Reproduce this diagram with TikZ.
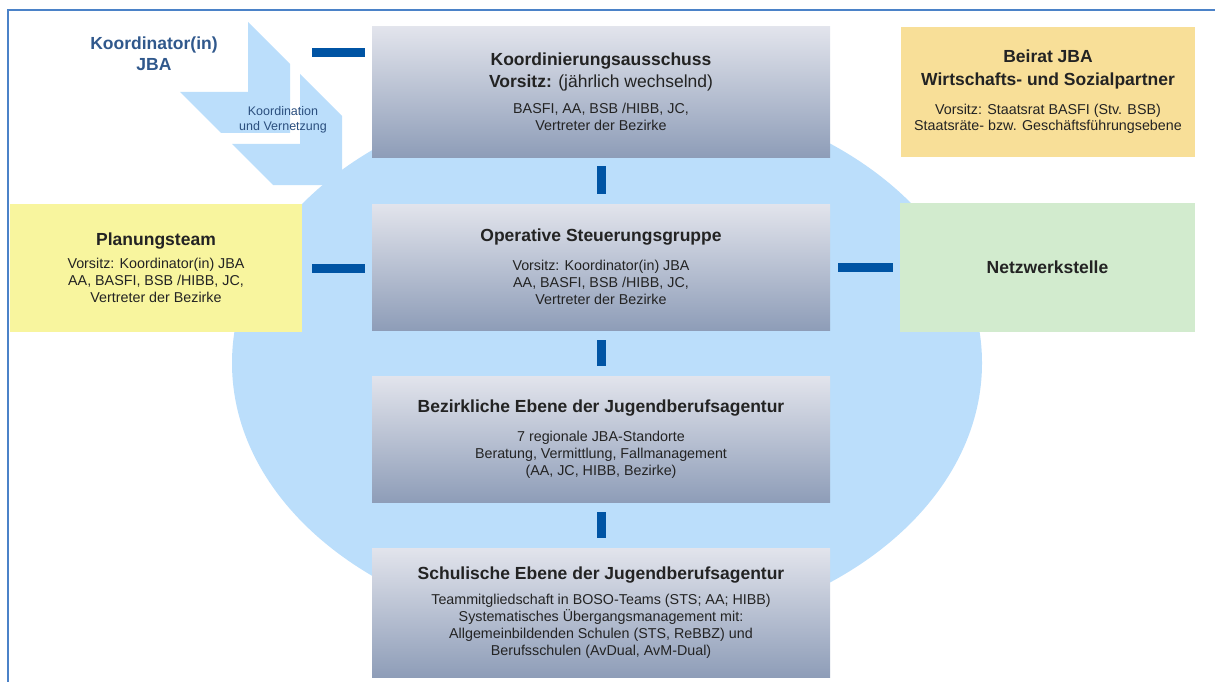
\documentclass[tikz,border=0pt]{standalone}
\usepackage{fontspec}
\setmainfont{Liberation Sans}
\usepackage{tikz}
\usetikzlibrary{positioning,calc}
\definecolor{jbablau}{RGB}{0,84,164}
\definecolor{hellblau}{RGB}{187,222,251}
\definecolor{rahmenblau}{RGB}{75,130,200}
\definecolor{ebenetop}{RGB}{226,228,236}
\definecolor{ebenebot}{RGB}{142,157,184}
\definecolor{planungsgelb}{RGB}{248,245,158}
\definecolor{beiratgelb}{RGB}{248,223,152}
\definecolor{netzgruen}{RGB}{210,235,206}
\definecolor{schrift}{RGB}{35,35,35}
\definecolor{koordblau}{RGB}{48,88,140}

\newcommand{\titelschrift}{\fontsize{17.5}{21}\selectfont\bfseries}
\newcommand{\textschrift}{\fontsize{14.3}{17}\selectfont\mdseries}
\newcommand{\kleinschrift}{\fontsize{12.5}{15}\selectfont}

\begin{document}
\begin{tikzpicture}[x=1pt, y=-1pt,
  ebene/.style={rectangle, inner sep=0pt, minimum width=458pt, minimum height=127pt, top color=ebenetop, bottom color=ebenebot, align=center, text=schrift, font=\textschrift},
  seitenbox/.style={rectangle, inner sep=0pt, minimum width=294pt, minimum height=129pt, align=center, text=schrift, font=\textschrift},
  balken/.style={draw=jbablau, line width=9pt}
]
\useasboundingbox (0,0) rectangle (1215,682);

% Frame
\draw[rahmenblau, line width=2pt] (8,682) -- (8,10) -- (1215,10);

% Background ellipse and chevrons
\fill[hellblau] (607,363) ellipse [x radius=375pt, y radius=273pt];
\fill[hellblau] (248,22) -- (290,64) -- (290,133) -- (221,133) -- (180,92) -- (248,92) -- cycle;
\fill[hellblau, shift={(52,52)}] (248,22) -- (290,64) -- (290,133) -- (221,133) -- (180,92) -- (248,92) -- cycle;

% Levels
\node[ebene, minimum height=130pt] (ausschuss) at (601,92) {{\titelschrift Koordinierungsausschuss}\\[5pt]
  {\titelschrift Vorsitz: {\mdseries (jährlich wechselnd)}}\\[9pt]
  BASFI, AA, BSB /HIBB, JC,\\
  Vertreter der Bezirke};
\node[ebene, minimum height=126pt] (operativ) at (601,267) {{\titelschrift Operative Steuerungsgruppe}\\[12pt]
  Vorsitz: Koordinator(in) JBA\\
  AA, BASFI, BSB /HIBB, JC,\\
  Vertreter der Bezirke};
\node[ebene, minimum height=126pt] (bezirk) at (601,439) {{\titelschrift Bezirkliche Ebene der Jugendberufsagentur}\\[12pt]
  7 regionale JBA-Standorte\\
  Beratung, Vermittlung, Fallmanagement\\
  (AA, JC, HIBB, Bezirke)};
\node[ebene, minimum height=129pt] (schule) at (601,612.5) {{\titelschrift Schulische Ebene der Jugendberufsagentur}\\[8pt]
  Teammitgliedschaft in BOSO-Teams (STS; AA; HIBB)\\
  Systematisches Übergangsmanagement mit:\\
  Allgemeinbildenden Schulen (STS, ReBBZ) und\\
  Berufsschulen (AvDual, AvM-Dual)};

% Side boxes
\node[seitenbox, fill=planungsgelb, minimum width=292pt, minimum height=128pt] (planung) at (156,268) {{\titelschrift Planungsteam}\\[6pt]
  Vorsitz: Koordinator(in) JBA\\
  AA, BASFI, BSB /HIBB, JC,\\
  Vertreter der Bezirke};
\node[seitenbox, fill=beiratgelb, minimum height=130pt] (beirat) at (1048,92) {{\titelschrift Beirat JBA}\\[6pt]
  {\titelschrift Wirtschafts- und Sozialpartner}\\[12pt]
  Vorsitz: Staatsrat BASFI (Stv. BSB)\\[-1pt]
  Staatsräte- bzw. Geschäftsführungsebene};
\node[seitenbox, fill=netzgruen, minimum width=295pt] (netz) at (1047.5,267.5) {\titelschrift Netzwerkstelle};

% Coordinator
\node[align=center, text=koordblau, font=\titelschrift] (koordinator) at (154,54) {Koordinator(in)\\ JBA};
\node[align=center, text=koordblau!90!black, font=\kleinschrift] (vernetzung) at (283,120) {Koordination\\ und Vernetzung};
\coordinate (kjba) at (312,53);

% Connectors
\draw[balken, shorten >=7pt] (kjba) -- (kjba -| ausschuss.west);
\draw[balken, shorten <=10pt, shorten >=7pt] (planung.east) -- (planung.east -| operativ.west);
\draw[balken, shorten <=8pt, shorten >=7pt] (operativ.east) -- (operativ.east -| netz.west);
\draw[balken, shorten <=9pt, shorten >=10pt] (ausschuss.south) -- (operativ.north);
\draw[balken, shorten <=10pt, shorten >=10pt] (operativ.south) -- (bezirk.north);
\draw[balken, shorten <=10pt, shorten >=10pt] (bezirk.south) -- (schule.north);

\end{tikzpicture}
\end{document}
